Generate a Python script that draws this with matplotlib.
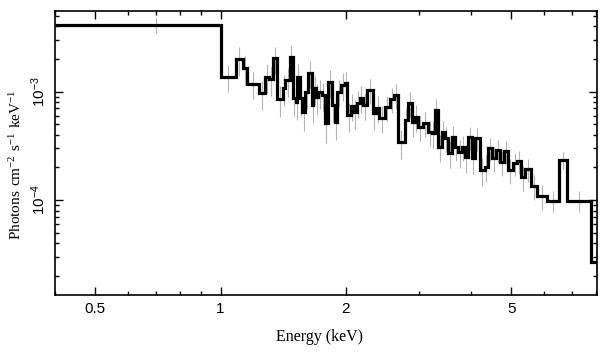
import numpy as np
import matplotlib
matplotlib.use("Agg")
import matplotlib.pyplot as plt
from matplotlib.ticker import FixedLocator, NullFormatter

# ---- data ----
energy_edges = [0.40, 1.00, 1.09, 1.13, 1.16, 1.24, 1.28, 1.31, 1.34, 1.37,
                1.41, 1.43, 1.47, 1.49, 1.52, 1.53, 1.55, 1.57, 1.60, 1.62,
                1.66, 1.67, 1.70, 1.72, 1.75, 1.78, 1.81, 1.85, 1.88, 1.91,
                1.95, 1.99, 2.02, 2.06, 2.09, 2.13, 2.16, 2.20, 2.25, 2.32,
                2.36, 2.41, 2.48, 2.55, 2.61, 2.67, 2.77, 2.82, 2.88, 2.93,
                2.98, 3.06, 3.15, 3.22, 3.27, 3.33, 3.40, 3.46, 3.52, 3.60,
                3.66, 3.72, 3.80, 3.87, 3.93, 4.02, 4.09, 4.20, 4.32, 4.39,
                4.49, 4.59, 4.70, 4.80, 4.91, 5.05, 5.16, 5.28, 5.39, 5.58,
                5.76, 6.09, 6.51, 6.81, 7.78, 8.20]

flux = [4.13e-3, 1.38e-3, 1.99e-3, 1.65e-3, 1.18e-3, 9.67e-4, 1.38e-3, 1.30e-3, 2.03e-3, 8.51e-4,
        1.08e-3, 1.28e-3, 2.09e-3, 8.75e-4, 8.03e-4, 1.37e-3, 8.75e-4, 6.50e-4, 9.94e-4, 1.49e-3,
        7.54e-4, 1.08e-3, 8.94e-4, 9.94e-4, 9.32e-4, 5.14e-4, 1.23e-3, 7.54e-4, 5.25e-4, 9.94e-4,
        1.15e-3, 1.20e-3, 6.09e-4, 7.38e-4, 6.50e-4, 7.86e-4, 8.75e-4, 7.54e-4, 1.04e-3, 6.36e-4,
        7.07e-4, 5.72e-4, 7.22e-4, 8.56e-4, 9.32e-4, 3.43e-4, 5.48e-4, 7.86e-4, 5.25e-4, 5.84e-4,
        4.72e-4, 5.14e-4, 4.24e-4, 4.16e-4, 6.78e-4, 3.09e-4, 4.24e-4, 3.74e-4, 2.72e-4, 3.82e-4,
        3.09e-4, 2.77e-4, 3.09e-4, 2.49e-4, 3.82e-4, 2.44e-4, 3.74e-4, 1.89e-4, 2.02e-4, 3.02e-4,
        2.44e-4, 2.89e-4, 2.24e-4, 2.83e-4, 1.89e-4, 2.20e-4, 2.29e-4, 1.63e-4, 1.93e-4, 1.35e-4,
        1.09e-4, 9.85e-5, 2.34e-4, 9.85e-5, 2.69e-5]

rel_err = [0.15, 0.28, 0.30, 0.30, 0.28, 0.30, 0.30, 0.30, 0.28, 0.32,
           0.32, 0.30, 0.28, 0.32, 0.32, 0.30, 0.32, 0.34, 0.30, 0.28,
           0.32, 0.30, 0.32, 0.30, 0.30, 0.34, 0.28, 0.30, 0.32, 0.28,
           0.28, 0.26, 0.30, 0.28, 0.30, 0.28, 0.28, 0.28, 0.26, 0.30,
           0.28, 0.28, 0.26, 0.26, 0.26, 0.30, 0.28, 0.26, 0.28, 0.28,
           0.26, 0.26, 0.26, 0.28, 0.26, 0.28, 0.26, 0.26, 0.28, 0.26,
           0.26, 0.28, 0.26, 0.28, 0.24, 0.28, 0.24, 0.28, 0.28, 0.24,
           0.26, 0.24, 0.26, 0.24, 0.26, 0.24, 0.24, 0.26, 0.24, 0.26,
           0.26, 0.22, 0.18, 0.22, 0.30]

x_major = [0.5, 1, 2, 5]
x_major_labels = ["0.5", "1", "2", "5"]
x_minor = [0.4, 0.6, 0.7, 0.8, 0.9, 3, 4, 6, 7, 8]
y_major = [1e-4, 1e-3]
y_major_labels = [r"$\mathregular{10^{-4}}$", r"$\mathregular{10^{-3}}$"]
y_minor = [m * d for d in (1e-5, 1e-4, 1e-3) for m in range(2, 10)]

x_label = "Energy (keV)"
y_label = r"$\mathregular{Photons\ cm^{-2}\ s^{-1}\ keV^{-1}}$"

# ---- figure ----
fig = plt.figure(figsize=(6.09, 3.57), dpi=100)
ax = fig.add_axes([55 / 609, 1 - 295 / 357, 542 / 609, 284 / 357])

edges = np.array(energy_edges)
f = np.array(flux)
centers = 0.5 * (edges[:-1] + edges[1:])
err = f * np.array(rel_err)

ax.errorbar(centers, f, yerr=err, fmt="none", ecolor="#b4b4b4",
            elinewidth=0.8, zorder=1)
ax.stairs(f, edges, baseline=None, color="black", lw=2.3, zorder=2)

ax.set_xscale("log")
ax.set_yscale("log")
ax.set_xlim(0.4, 8.04)
ax.set_ylim(1.33e-5, 5.55e-3)

ax.xaxis.set_major_locator(FixedLocator(x_major))
ax.xaxis.set_minor_locator(FixedLocator(x_minor))
ax.set_xticklabels(x_major_labels)
ax.xaxis.set_minor_formatter(NullFormatter())
ax.yaxis.set_major_locator(FixedLocator(y_major))
ax.yaxis.set_minor_locator(FixedLocator(y_minor))
ax.set_yticklabels(y_major_labels)
ax.yaxis.set_minor_formatter(NullFormatter())

ax.tick_params(which="both", direction="in", top=True, right=True,
               width=1.0, colors="black")
ax.tick_params(which="major", length=6)
ax.tick_params(which="minor", length=3)
ax.tick_params(axis="x", which="major", pad=5)
ax.tick_params(axis="y", which="major", pad=5)

for lab in ax.get_xticklabels():
    lab.set_fontfamily("Liberation Sans")
    lab.set_fontsize(11)
for lab in ax.get_yticklabels():
    lab.set_fontfamily("Liberation Sans")
    lab.set_fontsize(11)
    lab.set_rotation(90)
    lab.set_va("center")

for sp in ax.spines.values():
    sp.set_linewidth(1.2)

fig.text(320 / 609, 1 - 337 / 357, x_label, ha="center", va="center",
         fontfamily="Liberation Serif", fontsize=11.5)
fig.text(16 / 609, 1 - 165 / 357, y_label, ha="center", va="center",
         rotation=90, fontfamily="Liberation Serif", fontsize=11)

fig.savefig("out.png", dpi=100)
